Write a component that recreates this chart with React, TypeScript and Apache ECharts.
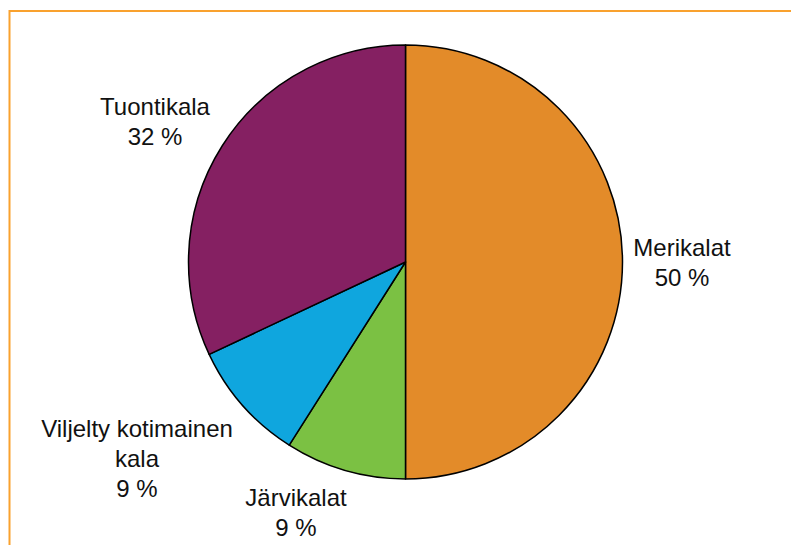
import React, { useEffect, useRef } from "react";
import * as echarts from "echarts";

const categories = ["Merikalat", "Järvikalat", "Viljelty kotimainen kala", "Tuontikala"];
const displayLabels = ["Merikalat", "Järvikalat", "Viljelty kotimainen\nkala", "Tuontikala"];
const shares = [50, 9, 9, 32];
const sliceColors = ["#E38B29", "#7BC143", "#0FA6DE", "#852062"];
const labelCenters: [number, number][] = [
  [682, 262.5],
  [296, 512.5],
  [137, 458.5],
  [155, 121.7],
];

export default function App() {
  const ref = useRef<HTMLDivElement>(null);
  useEffect(() => {
    document.body.style.margin = "0";
    const chart = echarts.init(ref.current!, undefined, { renderer: "svg" });
    chart.setOption({
      animation: false,
      backgroundColor: "#ffffff",
      graphic: [
        {
          type: "rect",
          shape: { x: 9.5, y: 11, width: 900, height: 700 },
          style: { fill: "none", stroke: "#F9A12E", lineWidth: 2 },
          silent: true,
        },
      ],
      series: [
        {
          type: "pie",
          center: [405.5, 262],
          radius: 217,
          startAngle: 90,
          clockwise: true,
          avoidLabelOverlap: false,
          silent: true,
          itemStyle: { borderColor: "#000000", borderWidth: 1.5 },
          label: {
            show: true,
            position: "outside",
            color: "#111111",
            fontFamily: "Liberation Sans, Arial, sans-serif",
            fontSize: 24,
            lineHeight: 30,
            align: "center",
            formatter: (p: any) => `${displayLabels[p.dataIndex]}\n${p.value} %`,
          },
          labelLine: { show: false },
          labelLayout: (params: any) => {
            const c = labelCenters[params.dataIndex];
            return { x: c[0], y: c[1], align: "center", verticalAlign: "middle" };
          },
          data: categories.map((name, i) => ({
            name,
            value: shares[i],
            itemStyle: { color: sliceColors[i] },
          })),
        },
      ],
    });
    return () => chart.dispose();
  }, []);
  return <div ref={ref} style={{ width: 791, height: 545 }} />;
}
